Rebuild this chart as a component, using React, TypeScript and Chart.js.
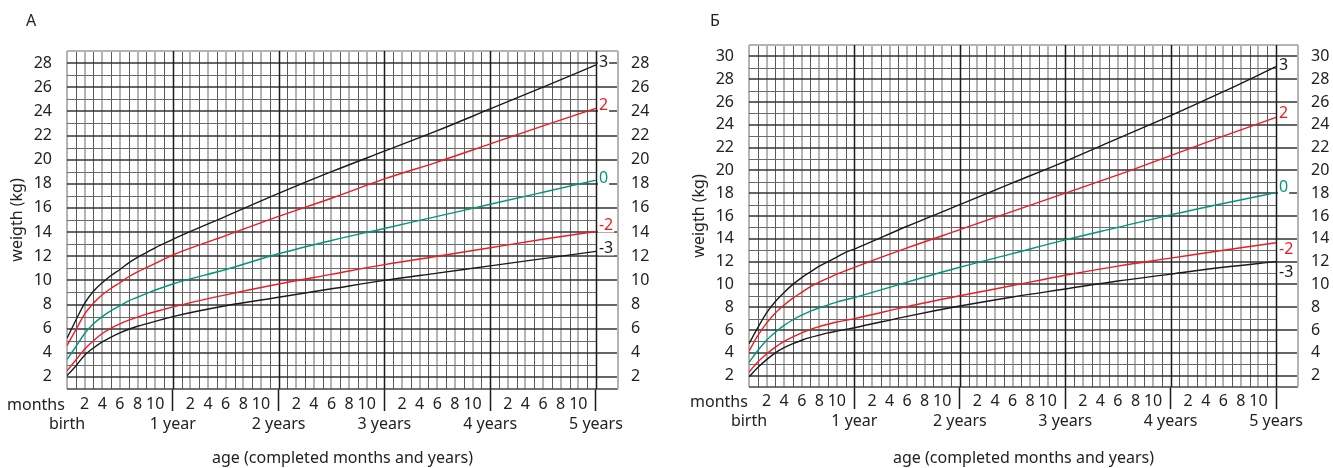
import React, { useEffect, useRef } from "react";
import { Chart, registerables } from "chart.js";
Chart.register(...registerables);

const FONT = '"Noto Sans", sans-serif';
Chart.defaults.font.family = FONT;
Chart.defaults.color = "#222";

// ages (completed months) at which curve values are read
const months = [0, 1, 2, 3, 4, 5, 6, 7, 8, 9, 10, 11, 12, 18, 24, 30, 36, 42, 48, 54, 60];
const zLabels = ["3", "2", "0", "-2", "-3"];
const lineColors = ["#1a1a1a", "#ec1c24", "#00977a", "#ec1c24", "#1a1a1a"];
const yearLabels = ["birth", "1 year", "2 years", "3 years", "4 years", "5 years"];
const monthTicks = [2, 4, 6, 8, 10];

// Panel А
const aP3 = [5.2, 6.7, 8.1, 9.1, 9.8, 10.4, 10.9, 11.45, 11.9, 12.3, 12.7, 13.05, 13.4, 15.3, 17.2, 19.0, 20.7, 22.4, 24.2, 26.0, 27.85];
const aP2 = [4.6, 5.9, 7.2, 8.1, 8.8, 9.35, 9.8, 10.3, 10.7, 11.05, 11.4, 11.75, 12.1, 13.7, 15.3, 16.8, 18.4, 19.8, 21.3, 22.8, 24.25];
const aP0 = [3.45, 4.5, 5.6, 6.4, 7.0, 7.5, 7.9, 8.3, 8.6, 8.9, 9.2, 9.45, 9.7, 10.9, 12.2, 13.3, 14.3, 15.3, 16.3, 17.3, 18.3];
const aM2 = [2.5, 3.4, 4.3, 5.0, 5.6, 6.05, 6.4, 6.7, 6.95, 7.2, 7.4, 7.6, 7.8, 8.8, 9.7, 10.5, 11.3, 12.0, 12.7, 13.4, 14.05];
const aM3 = [2.1, 2.9, 3.8, 4.4, 4.9, 5.3, 5.65, 5.95, 6.2, 6.4, 6.6, 6.8, 7.0, 7.9, 8.6, 9.3, 10.0, 10.6, 11.2, 11.8, 12.4];

// Panel Б
const bP3 = [4.8, 6.2, 7.5, 8.5, 9.3, 10.0, 10.6, 11.1, 11.6, 12.0, 12.4, 12.8, 13.1, 15.1, 17.0, 18.9, 20.8, 22.8, 24.8, 26.9, 29.1];
const bP2 = [4.15, 5.5, 6.6, 7.5, 8.2, 8.8, 9.3, 9.8, 10.2, 10.55, 10.9, 11.2, 11.5, 13.2, 14.8, 16.4, 18.0, 19.6, 21.3, 23.0, 24.65];
const bP0 = [3.15, 4.2, 5.1, 5.8, 6.4, 6.9, 7.3, 7.65, 7.95, 8.2, 8.45, 8.65, 8.85, 10.2, 11.5, 12.7, 13.9, 15.0, 16.1, 17.1, 18.05];
const bM2 = [2.3, 3.2, 3.9, 4.5, 5.0, 5.4, 5.75, 6.05, 6.3, 6.5, 6.7, 6.85, 7.0, 8.05, 9.0, 9.9, 10.8, 11.6, 12.3, 13.0, 13.65];
const bM3 = [1.9, 2.7, 3.4, 4.0, 4.45, 4.8, 5.1, 5.35, 5.55, 5.75, 5.9, 6.05, 6.2, 7.2, 8.1, 8.9, 9.6, 10.3, 10.9, 11.5, 12.0];

type PanelProps = {
  left: number;
  width: number;
  series: number[][];
  yMax: number;
  padLeft: number;
  padTop: number;
  yWidth: number;
  y2Width: number;
  xHeight: number;
  tickPad: number;
  labelOffsets: number[];
};

function Panel(p: PanelProps) {
  const ref = useRef<HTMLCanvasElement>(null);
  useEffect(() => {
    const gridPlugin = {
      id: "paperGrid",
      beforeDatasetsDraw(chart: any) {
        const { ctx, chartArea: ca, scales } = chart;
        const x = scales.x;
        const y = scales.y;
        const x60 = x.getPixelForValue(60);
        ctx.save();
        // vertical month lines
        for (let m = 0; m <= 60; m++) {
          const px = x.getPixelForValue(m);
          if (m % 12 === 0 && m > 0) continue;
          ctx.beginPath();
          if (m % 2 === 0) {
            ctx.strokeStyle = "#b4b4b4";
            ctx.lineWidth = 2;
          } else {
            ctx.strokeStyle = "#5a5a5a";
            ctx.lineWidth = 1;
          }
          const ax = m % 2 === 0 ? Math.round(px) : Math.round(px) + 0.5;
          ctx.moveTo(ax, ca.top);
          ctx.lineTo(ax, ca.bottom);
          ctx.stroke();
        }
        // horizontal lines
        for (let v = Math.ceil(y.min); v <= y.max; v++) {
          const py = y.getPixelForValue(v);
          ctx.beginPath();
          if (v === y.max) {
            ctx.strokeStyle = "#b4b4b4";
            ctx.lineWidth = 2;
            ctx.moveTo(ca.left, Math.round(py));
            ctx.lineTo(ca.right, Math.round(py));
          } else if (v === y.min) {
            ctx.strokeStyle = "#444";
            ctx.lineWidth = 1.5;
            ctx.moveTo(ca.left, Math.round(py));
            ctx.lineTo(ca.right, Math.round(py));
          } else if (v % 2 === 0) {
            ctx.strokeStyle = "#333";
            ctx.lineWidth = 1.4;
            ctx.moveTo(ca.left, Math.round(py));
            ctx.lineTo(ca.right, Math.round(py));
          } else {
            ctx.strokeStyle = "#6a6a6a";
            ctx.lineWidth = 1;
            ctx.moveTo(ca.left, Math.round(py) + 0.5);
            ctx.lineTo(x60, Math.round(py) + 0.5);
          }
          ctx.stroke();
        }
        // right border
        ctx.beginPath();
        ctx.strokeStyle = "#b4b4b4";
        ctx.lineWidth = 2;
        ctx.moveTo(Math.round(ca.right), ca.top);
        ctx.lineTo(Math.round(ca.right), ca.bottom);
        ctx.stroke();
        // year lines
        for (let m = 12; m <= 60; m += 12) {
          const px = Math.round(x.getPixelForValue(m)) + 0.5;
          ctx.beginPath();
          ctx.strokeStyle = "#1a1a1a";
          ctx.lineWidth = 1.5;
          ctx.moveTo(px, ca.top);
          ctx.lineTo(px, ca.bottom);
          ctx.stroke();
        }
        ctx.restore();
      },
    };
    const labelPlugin = {
      id: "zLabels",
      afterDatasetsDraw(chart: any) {
        const ctx = chart.ctx;
        ctx.save();
        ctx.font = `16px ${FONT}`;
        ctx.textBaseline = "middle";
        chart.data.datasets.forEach((_ds: any, i: number) => {
          const meta = chart.getDatasetMeta(i);
          const pt = meta.data[meta.data.length - 1];
          const text = zLabels[i];
          const w = ctx.measureText(text).width;
          const tx = pt.x + 3;
          const ty = pt.y + p.labelOffsets[i];
          ctx.fillStyle = "#fff";
          ctx.fillRect(tx - 1, ty - 7, w + 2, 14);
          ctx.fillStyle = lineColors[i];
          ctx.fillText(text, tx, ty);
        });
        ctx.restore();
      },
    };
    const yTicks = {
      stepSize: 1,
      autoSkip: false,
      font: { size: 16 },
      color: "#222",
      callback: (v: any) => (Number(v) % 2 === 0 ? String(v) : ""),
    };
    const chart = new Chart(ref.current as HTMLCanvasElement, {
      type: "line",
      data: {
        datasets: p.series.map((s, i) => ({
          label: zLabels[i],
          data: months.map((m, j) => ({ x: m, y: s[j] })),
          borderColor: lineColors[i],
          borderWidth: 1.4,
          pointRadius: 0,
          fill: false,
          cubicInterpolationMode: "monotone" as const,
          yAxisID: "y",
        })),
      },
      options: {
        animation: false,
        responsive: false,
        events: [],
        layout: { padding: { left: p.padLeft, top: p.padTop, right: 0, bottom: 0 } },
        plugins: { legend: { display: false }, tooltip: { enabled: false } },
        scales: {
          x: {
            type: "linear",
            min: 0,
            max: 62.5,
            border: { display: false },
            grid: {
              drawOnChartArea: false,
              drawTicks: true,
              tickLength: 22,
              tickWidth: 1.5,
              tickColor: (c: any) => {
                const v = c.tick ? c.tick.value : -1;
                return v > 0 && v <= 60 && v % 12 === 0 ? "#1a1a1a" : "rgba(0,0,0,0)";
              },
            },
            ticks: {
              stepSize: 1,
              autoSkip: false,
              maxRotation: 0,
              minRotation: 0,
              padding: p.tickPad,
              font: { size: 16, lineHeight: 1.28 },
              color: "#222",
              callback: (value: any) => {
                const v = Number(value);
                if (!Number.isInteger(v)) return "";
                if (v % 12 === 0 && v <= 60) return ["", yearLabels[v / 12]];
                const m = v % 12;
                if (v < 60 && monthTicks.includes(m)) return String(m);
                return "";
              },
            },
            title: {
              display: true,
              text: "age (completed months and years)",
              font: { size: 16 },
              color: "#222",
              padding: { top: 0, bottom: 0 },
            },
            afterFit: (s: any) => {
              s.height = p.xHeight;
            },
          },
          y: {
            type: "linear",
            position: "left",
            min: 1,
            max: p.yMax,
            border: { display: false },
            grid: { display: false },
            ticks: { ...yTicks, padding: 7 },
            title: {
              display: true,
              text: "weigth (kg)",
              font: { size: 16 },
              color: "#222",
              padding: { top: 4, bottom: 4 },
            },
            afterFit: (s: any) => {
              s.width = p.yWidth;
            },
          },
          y2: {
            type: "linear",
            position: "right",
            display: true,
            min: 1,
            max: p.yMax,
            border: { display: false },
            grid: { display: false },
            ticks: { ...yTicks, padding: 5 },
            afterFit: (s: any) => {
              s.width = p.y2Width;
            },
          },
        },
      },
      plugins: [gridPlugin, labelPlugin],
    } as any);
    return () => chart.destroy();
  }, []);
  return (
    <canvas
      ref={ref}
      width={p.width}
      height={468}
      style={{ position: "absolute", left: p.left, top: 0 }}
    />
  );
}

const textStyle: React.CSSProperties = {
  position: "absolute",
  fontFamily: FONT,
  fontSize: 16,
  lineHeight: "20px",
  color: "#222",
  whiteSpace: "nowrap",
};

export default function App() {
  useEffect(() => {
    document.body.style.margin = "0";
  }, []);
  return (
    <div
      style={{
        position: "fixed",
        left: 0,
        top: 0,
        width: 1333,
        height: 468,
        background: "#fff",
        overflow: "hidden",
      }}
    >
      <Panel
        left={0}
        width={666}
        series={[aP3, aP2, aP0, aM2, aM3]}
        yMax={29}
        padLeft={4}
        padTop={51}
        yWidth={63}
        y2Width={48}
        xHeight={79}
        tickPad={-17}
        labelOffsets={[-2, -3, -2, -6, -3]}
      />
      <Panel
        left={666}
        width={667}
        series={[bP3, bP2, bP0, bM2, bM3]}
        yMax={31}
        padLeft={20}
        padTop={45}
        yWidth={63}
        y2Width={35}
        xHeight={81}
        tickPad={-18}
        labelOffsets={[-1, -4, -5, 7, 11]}
      />
      <span style={{ ...textStyle, left: 26, top: 10 }}>А</span>
      <span style={{ ...textStyle, left: 710, top: 10 }}>Б</span>
      <span style={{ ...textStyle, left: 7, top: 394 }}>months</span>
      <span style={{ ...textStyle, left: 690, top: 391 }}>months</span>
    </div>
  );
}
